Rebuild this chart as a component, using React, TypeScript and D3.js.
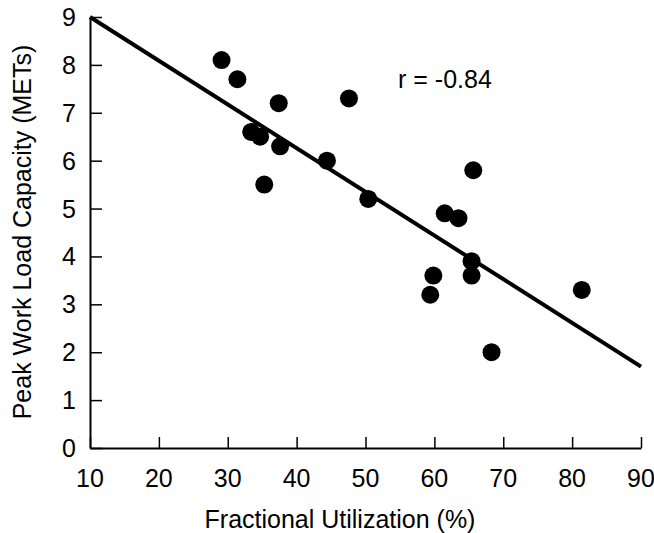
import React, { useEffect, useRef } from 'react';
import * as d3 from 'd3';

// Scatter data
const utilization = [29.1, 31.4, 33.4, 34.7, 35.3, 37.4, 37.6, 44.4, 47.6, 50.4, 59.4, 59.85, 61.5, 63.5, 65.4, 65.4, 65.65, 68.3, 81.4];
const workLoad = [8.1, 7.7, 6.6, 6.5, 5.5, 7.2, 6.3, 6.0, 7.3, 5.2, 3.2, 3.6, 4.9, 4.8, 3.9, 3.6, 5.8, 2.0, 3.3];

// regression line end points
const fitX = [10, 90];
const fitY = [9.0, 1.7];

const xTicks = [10, 20, 30, 40, 50, 60, 70, 80, 90];
const yTicks = [0, 1, 2, 3, 4, 5, 6, 7, 8, 9];
const rLabel = 'r = -0.84';

const App = () => {
  const svgRef = useRef<SVGSVGElement>(null);

  useEffect(() => {
    const svg = d3.select(svgRef.current);
    svg.selectAll('*').remove();

    const width = 654;
    const height = 533;
    const margin = { top: 17, right: 13, bottom: 85, left: 90 };
    const font = '"Liberation Sans", Arial, sans-serif';

    const x = d3.scaleLinear()
      .domain([10, 90])
      .range([margin.left, width - margin.right]);

    const y = d3.scaleLinear()
      .domain([0, 9])
      .range([height - margin.bottom, margin.top]);

    // x axis, ticks pointing inward
    const xAxis = svg.append('g')
      .attr('transform', `translate(0,${y(0)})`)
      .call(d3.axisTop(x).tickValues(xTicks).tickSize(11).tickSizeOuter(0).tickFormat(() => ''));
    xAxis.select('.domain').attr('stroke-width', 2);
    xAxis.selectAll('line').attr('stroke-width', 1.5);

    const yAxis = svg.append('g')
      .attr('transform', `translate(${x(10)},0)`)
      .call(d3.axisRight(y).tickValues(yTicks).tickSize(12).tickSizeOuter(0).tickFormat(() => ''));
    yAxis.select('.domain').attr('stroke-width', 2);
    yAxis.selectAll('line').attr('stroke-width', 1.5);

    // tick labels
    svg.append('g')
      .selectAll('text')
      .data(xTicks)
      .join('text')
      .attr('x', d => x(d))
      .attr('y', 487)
      .attr('text-anchor', 'middle')
      .style('font-family', font)
      .style('font-size', '25px')
      .text(d => d);

    svg.append('g')
      .selectAll('text')
      .data(yTicks)
      .join('text')
      .attr('x', 76)
      .attr('y', d => y(d) + 9)
      .attr('text-anchor', 'end')
      .style('font-family', font)
      .style('font-size', '25px')
      .text(d => d);

    // axis titles
    svg.append('text')
      .attr('x', 340)
      .attr('y', 528)
      .attr('text-anchor', 'middle')
      .style('font-family', font)
      .style('font-size', '25px')
      .text('Fractional Utilization (%)');

    svg.append('text')
      .attr('transform', 'rotate(-90)')
      .attr('x', -232)
      .attr('y', 31)
      .attr('text-anchor', 'middle')
      .style('font-family', font)
      .style('font-size', '25px')
      .text('Peak Work Load Capacity (METs)');

    // regression line
    const line = d3.line<number>()
      .x(d => x(d))
      .y((d, i) => y(fitY[i]));
    svg.append('path')
      .datum(fitX)
      .attr('d', line)
      .attr('fill', 'none')
      .attr('stroke', '#000')
      .attr('stroke-width', 4);

    // points
    svg.append('g')
      .selectAll('circle')
      .data(utilization)
      .join('circle')
      .attr('cx', d => x(d))
      .attr('cy', (d, i) => y(workLoad[i]))
      .attr('r', 9)
      .attr('fill', '#000');

    svg.append('text')
      .attr('x', 398)
      .attr('y', 88)
      .style('font-family', font)
      .style('font-size', '25px')
      .text(rLabel);
  }, []);

  return (
    <svg
      ref={svgRef}
      width="654"
      height="533"
      style={{ position: 'absolute', left: 0, top: 0, background: '#fff' }}
    ></svg>
  );
};

export default App;
